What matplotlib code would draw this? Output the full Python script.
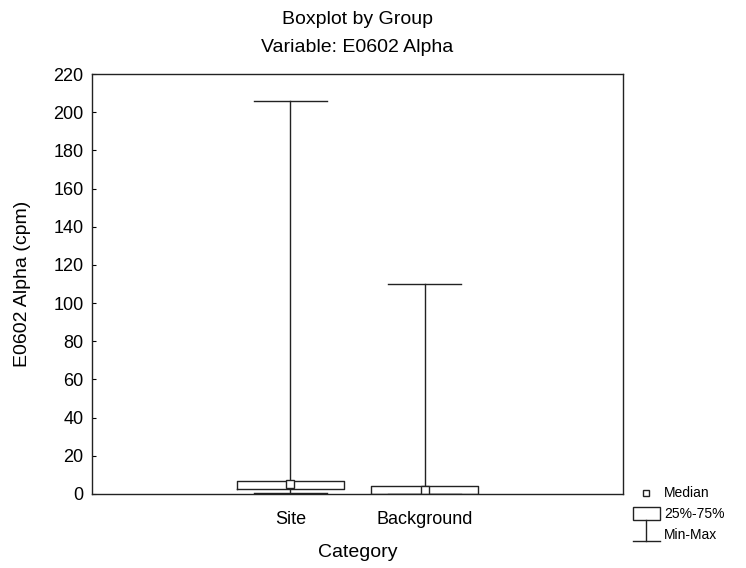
import matplotlib
matplotlib.use("Agg")
import matplotlib.pyplot as plt
from matplotlib.patches import Rectangle
from matplotlib.lines import Line2D

# values (cpm)
categories = ["Site", "Background"]
mins = [0.5, 0.0]
q1 = [2.8, 0.2]
medians = [5.0, 2.0]
q3 = [7.0, 4.3]
maxs = [206.0, 110.0]
yticks = list(range(0, 221, 20))

plt.rcParams["font.family"] = ["Liberation Sans", "DejaVu Sans"]

fig = plt.figure(figsize=(7.46, 5.68), dpi=100)
ax = fig.add_axes([0.1233, 0.1303, 0.7118, 0.7394])

positions = [1, 2]
stats = [
    {"label": c, "whislo": lo, "q1": a, "med": m, "q3": b, "whishi": hi}
    for c, lo, a, m, b, hi in zip(categories, mins, q1, medians, q3, maxs)
]
line = dict(color="#222222", linewidth=1.0)
ax.bxp(stats, positions=positions, widths=0.8, capwidths=0.55,
       showfliers=False, boxprops=line, whiskerprops=line, capprops=line,
       medianprops=dict(linewidth=0))
ax.plot(positions, medians, linestyle="none", marker="s", markersize=6,
        markerfacecolor="white", markeredgecolor="#222222", markeredgewidth=1.0)

ax.set_xlim(-0.48, 3.48)
ax.set_ylim(0, 220)
ax.set_yticks(yticks)
ax.set_xticks(positions)
ax.set_xticklabels(categories)
ax.tick_params(axis="y", direction="in", length=3, labelsize=13, pad=6)
ax.tick_params(axis="x", length=0, labelsize=13, pad=12)
for s in ax.spines.values():
    s.set_linewidth(1.0)
    s.set_color("#222222")

ax.set_xlabel("Category", fontsize=14, labelpad=12)
ax.set_ylabel("E0602 Alpha (cpm)", fontsize=14, labelpad=16)
ax.set_title("Boxplot by Group\nVariable: E0602 Alpha", fontsize=14,
             linespacing=1.8, pad=16)

# legend drawn outside the axes, bottom right
tr = fig.transFigure
W, H = 746, 568
def fx(x): return x / W
def fy(y): return 1 - y / H
fig.add_artist(Line2D([fx(646)], [fy(493)], transform=tr, marker="s", markersize=5,
                      markerfacecolor="white", markeredgecolor="#222222", markeredgewidth=1.0))
fig.text(fx(664), fy(493), "Median", fontsize=10, va="center", ha="left")
fig.add_artist(Rectangle((fx(633), fy(520)), fx(660) - fx(633), fy(507) - fy(520),
                         transform=tr, fill=False, edgecolor="#222222", linewidth=1.0))
fig.text(fx(664), fy(514), "25%-75%", fontsize=10, va="center", ha="left")
fig.add_artist(Line2D([fx(646), fx(646)], [fy(520), fy(541)], transform=tr,
                      color="#222222", linewidth=1.0))
fig.add_artist(Line2D([fx(633), fx(660)], [fy(541), fy(541)], transform=tr,
                      color="#222222", linewidth=1.0))
fig.text(fx(664), fy(535), "Min-Max", fontsize=10, va="center", ha="left")

fig.savefig("out.png", dpi=100)
